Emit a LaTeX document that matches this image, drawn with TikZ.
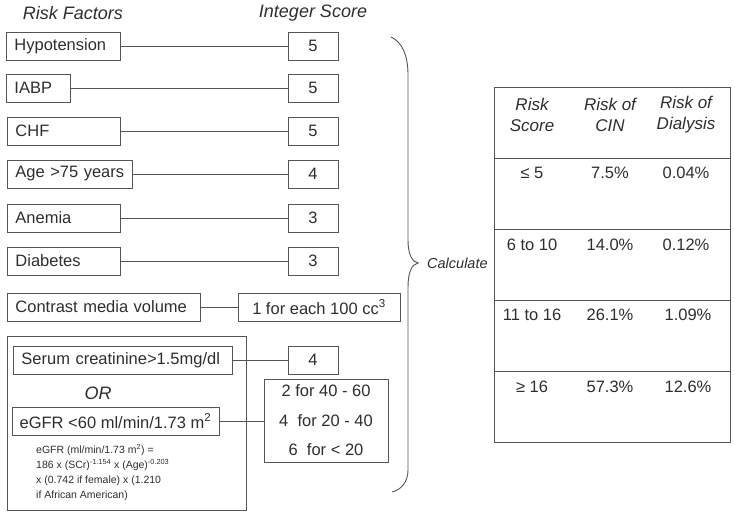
\documentclass[tikz,border=0pt]{standalone}
\usepackage{fontspec}
\setmainfont{Liberation Sans}
\definecolor{ink}{HTML}{2E2E2E}
\definecolor{rule}{HTML}{555555}
\begin{document}
\begin{tikzpicture}[x=1pt,y=-1pt,
  every node/.style={text=ink},
  box/.style={draw=rule, line width=0.9pt, minimum height=28pt, inner sep=0pt, font=\fontsize{16.5}{19}\selectfont},
  lbox/.style={box, align=left, inner xsep=8pt, anchor=west},
  sbox/.style={box, minimum width=50pt},
  link/.style={draw=rule, line width=0.9pt},
  head/.style={font=\fontsize{18}{20}\selectfont\itshape},
  thead/.style={font=\fontsize{17}{21}\selectfont\itshape, align=center},
  tcell/.style={font=\fontsize{16.5}{19}\selectfont},
  frame/.style={draw=rule, line width=0.9pt, inner sep=0pt}]
\useasboundingbox (0,0) rectangle (735,516);

% headers
\node[head] (hrf) at (73,13) {Risk Factors};
\node[head] (his) at (313,13) {Integer Score};

% simple factors
\node[lbox, text width=98pt] (hyp) at (6,46) {Hypotension};
\node[sbox] (s1) at (313,46) {5};
\node[lbox, text width=48pt] (iabp) at (6,88) {IABP};
\node[sbox] (s2) at (313,88) {5};
\node[lbox, text width=97pt] (chf) at (7,131) {CHF};
\node[sbox] (s3) at (313,131) {5};
\node[lbox, text width=109pt] (age) at (7,174) {Age >75 years};
\node[sbox] (s4) at (313,174) {4};
\node[lbox, text width=97pt] (ane) at (7,218) {Anemia};
\node[sbox] (s5) at (313,218) {3};
\node[lbox, text width=97pt] (dia) at (7,261) {Diabetes};
\node[sbox] (s6) at (313,261) {3};
\foreach \a/\b in {hyp/s1,iabp/s2,chf/s3,age/s4,ane/s5,dia/s6}
  \draw[link] (\a.east) -- (\b.west);

% contrast
\node[lbox, text width=177pt] (con) at (7,307) {Contrast media volume};
\node[box, minimum width=162pt] (scon) at (319,307) {1 for each 100 cc\textsuperscript{3}};
\draw[link] (con.east) -- (scon.west);

% renal group
\node[frame, minimum width=239pt, minimum height=174pt, anchor=north west] (grp) at (7,336) {};
\node[lbox, text width=203pt] (ser) at (13,360) {Serum creatinine>1.5mg/dl};
\node[sbox] (sser) at (313,360) {4};
\draw[link] (ser.east) -- (sser.west);
\node[font=\fontsize{18}{20}\selectfont\itshape] (or) at (98,393) {OR};
\node[box, minimum width=207pt] (egfr) at (115.5,421) {eGFR <60 ml/min/1.73 m\textsuperscript{2}};
\node[box, minimum width=124pt, minimum height=83pt, align=center,
      font=\fontsize{16.5}{29.5}\selectfont] (segfr) at (326,420.5)
      {2 for 40 - 60\\4\ \ for 20 - 40\\6\ \ for < 20};
\draw[link] (egfr.east) -- (egfr.east -| segfr.west);
\node[anchor=north west, align=left, inner sep=0pt,
      font=\fontsize{10.5}{15}\selectfont] (form) at (36,444)
      {eGFR (ml/min/1.73 m\textsuperscript{2}) =\\
       186 x (SCr)\textsuperscript{-1.154} x (Age)\textsuperscript{-0.203}\\
       x (0.742 if female) x (1.210\\
       if African American)};

% brace
\coordinate (btip) at (418,263);
\draw[draw=rule, line width=0.9pt]
  (391,37) .. controls (402,42) and (408,55) .. (408,75)
  -- (408,240) .. controls (408,254) and (412,262) .. (btip)
  .. controls (412,264) and (408,272) .. (408,287)
  -- (408,470) .. controls (408,482) and (401,490) .. (392,492);
\node[anchor=west, font=\fontsize{14.5}{16}\selectfont\itshape, inner sep=0pt] (calc) at (427,263) {Calculate};

% table
\node[frame, minimum width=236pt, minimum height=355pt, anchor=north west] (tbl) at (494,87) {};
\foreach \yy in {158,229,300,371}
  \draw[link] (tbl.west |- 0,\yy) -- (tbl.east |- 0,\yy);
\node[thead] (h1) at (532,115) {Risk\\Score};
\node[thead] (h2) at (610,115) {Risk of\\CIN};
\node[thead] (h3) at (686,115) {Risk of\\Dialysis};
\node[tcell] (r1a) at (532,173) {≤ 5};
\node[tcell] (r1b) at (610,173) {7.5\%};
\node[tcell] (r1c) at (686,173) {0.04\%};
\node[tcell] (r2a) at (532,245) {6 to 10};
\node[tcell] (r2b) at (610,245) {14.0\%};
\node[tcell] (r2c) at (686,245) {0.12\%};
\node[tcell] (r3a) at (532,315) {11 to 16};
\node[tcell] (r3b) at (610,315) {26.1\%};
\node[tcell] (r3c) at (688,315) {1.09\%};
\node[tcell] (r4a) at (532,387) {≥ 16};
\node[tcell] (r4b) at (610,387) {57.3\%};
\node[tcell] (r4c) at (688,387) {12.6\%};
\end{tikzpicture}
\end{document}
